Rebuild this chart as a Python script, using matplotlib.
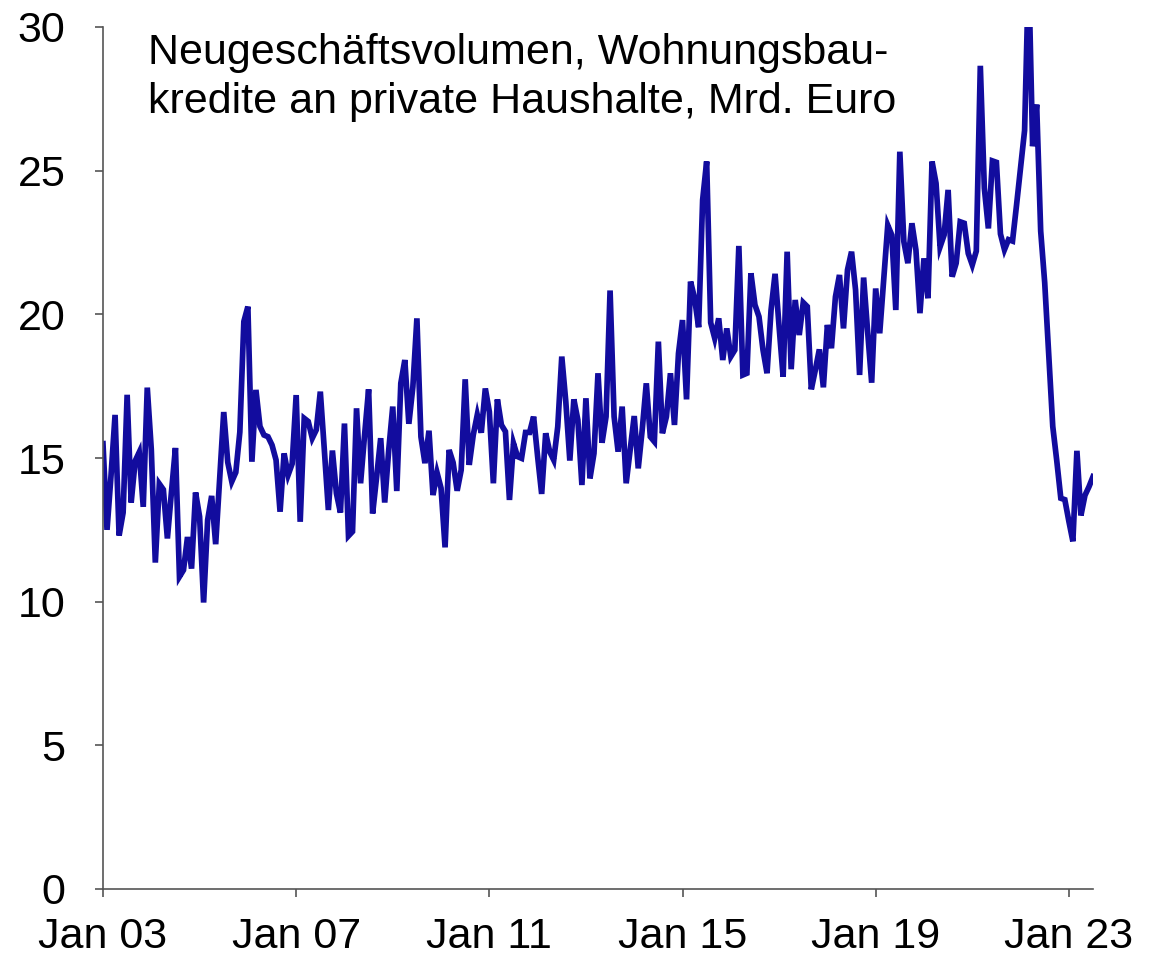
import matplotlib
matplotlib.use("Agg")
import matplotlib.pyplot as plt
import numpy as np

plt.rcParams['font.family'] = ['Liberation Sans', 'DejaVu Sans']

# Monthly values, Jan 2003 .. Jul 2023 (Mrd. Euro)
v2003 = [15.5, 12.5, 14.4, 16.5, 12.3, 13.1, 17.2, 13.45, 14.9, 15.2, 13.3, 17.45]
v2004 = [15.3, 11.36, 14.1, 13.9, 12.2, 13.8, 15.35, 10.87, 11.1, 12.25, 11.15, 13.8]
v2005 = [12.96, 9.97, 12.84, 13.68, 12.0, 14.3, 16.6, 14.85, 14.18, 14.5, 15.9, 19.75]
v2006 = [20.27, 14.87, 17.37, 16.1, 15.8, 15.74, 15.45, 14.93, 13.13, 15.16, 14.41, 14.8]
v2007 = [17.19, 12.78, 16.38, 16.27, 15.69, 15.98, 17.31, 15.28, 13.19, 15.26, 13.77, 13.1]
v2008 = [16.2, 12.29, 12.44, 16.73, 14.12, 15.8, 17.39, 13.07, 14.35, 15.69, 13.45, 15.28]
v2009 = [16.79, 13.85, 17.6, 18.41, 16.19, 17.48, 19.86, 15.74, 14.82, 15.95, 13.71, 14.49]
v2010 = [13.95, 11.89, 15.28, 14.84, 13.86, 14.58, 17.74, 14.76, 15.8, 16.5, 15.88, 17.42]
v2011 = [16.61, 14.12, 17.04, 16.15, 15.92, 13.54, 15.51, 15.05, 14.99, 15.89, 15.89, 16.44]
v2012 = [15.05, 13.75, 15.86, 15.22, 14.93, 16.09, 18.53, 16.96, 14.91, 17.04, 16.32, 14.06]
v2013 = [17.08, 14.29, 15.16, 17.95, 15.53, 16.44, 20.83, 16.44, 15.22, 16.79, 14.12, 15.3]
v2014 = [16.46, 14.64, 16.0, 17.6, 15.74, 15.57, 19.05, 15.86, 16.44, 17.95, 16.15, 18.64]
v2015 = [19.8, 17.04, 21.14, 20.56, 19.55, 23.98, 25.32, 19.71, 19.17, 19.86, 18.41, 19.51]
v2016 = [18.53, 18.76, 22.38, 17.89, 17.95, 21.43, 20.33, 19.92, 18.76, 17.95, 20.15, 21.41]
v2017 = [19.57, 17.83, 22.18, 18.09, 20.5, 19.28, 20.41, 20.27, 17.39, 18.06, 18.78, 17.46]
v2018 = [19.63, 18.82, 20.61, 21.37, 19.51, 21.55, 22.18, 20.85, 17.89, 21.28, 19.4, 17.62]
v2019 = [20.9, 19.34, 21.2, 23.1, 22.76, 20.15, 25.66, 22.53, 21.78, 23.17, 22.24, 20.04]
v2020 = [21.95, 20.56, 25.32, 24.56, 22.35, 22.76, 24.33, 21.31, 21.78, 23.22, 23.17, 22.12]
v2021 = [21.72, 22.2, 28.65, 24.39, 22.99, 25.34, 25.29, 22.8, 22.25, 22.6, 22.55, 23.8]
v2022 = [25.1, 26.4, 32.0, 25.85, 27.3, 22.9, 21.1, 18.6, 16.1, 14.9, 13.6, 13.55]
v2023 = [12.8, 12.1, 15.25, 13.0, 13.7, 14.0, 14.35]

values = (v2003 + v2004 + v2005 + v2006 + v2007 + v2008 + v2009 + v2010 + v2011
          + v2012 + v2013 + v2014 + v2015 + v2016 + v2017 + v2018 + v2019 + v2020
          + v2021 + v2022 + v2023)
months = np.arange(len(values))

xtick_labels = ["Jan 03", "Jan 07", "Jan 11", "Jan 15", "Jan 19", "Jan 23"]
xtick_pos = [0, 48, 96, 144, 192, 240]
ytick_vals = [0, 5, 10, 15, 20, 25, 30]
title_text = "Neugeschäftsvolumen, Wohnungsbau-\nkredite an private Haushalte, Mrd. Euro"

fig = plt.figure(figsize=(11.61, 9.57), dpi=100)
ax = fig.add_axes([103/1161, 68/957, 990/1161, 862/957])

ax.plot(months, values, color='#120C9E', lw=4.1, solid_joinstyle='miter')

ax.set_xlim(0, 246)
ax.set_ylim(0, 30)
ax.set_xticks(xtick_pos)
ax.set_xticklabels(xtick_labels)
ax.set_yticks(ytick_vals)

for s in ['top', 'right']:
    ax.spines[s].set_visible(False)
for s in ['left', 'bottom']:
    ax.spines[s].set_color('#555555')
    ax.spines[s].set_linewidth(1.2)

ax.tick_params(axis='y', direction='out', length=6, width=1.2, color='#555555',
               labelsize=31, pad=21)
ax.tick_params(axis='x', direction='out', length=6, width=1.2, color='#555555',
               labelsize=31, pad=14)

fig.text(148/1161, 1 - 33/957, title_text, ha='left', va='top', fontsize=31,
         linespacing=1.3)

fig.savefig('out.png', dpi=100)
